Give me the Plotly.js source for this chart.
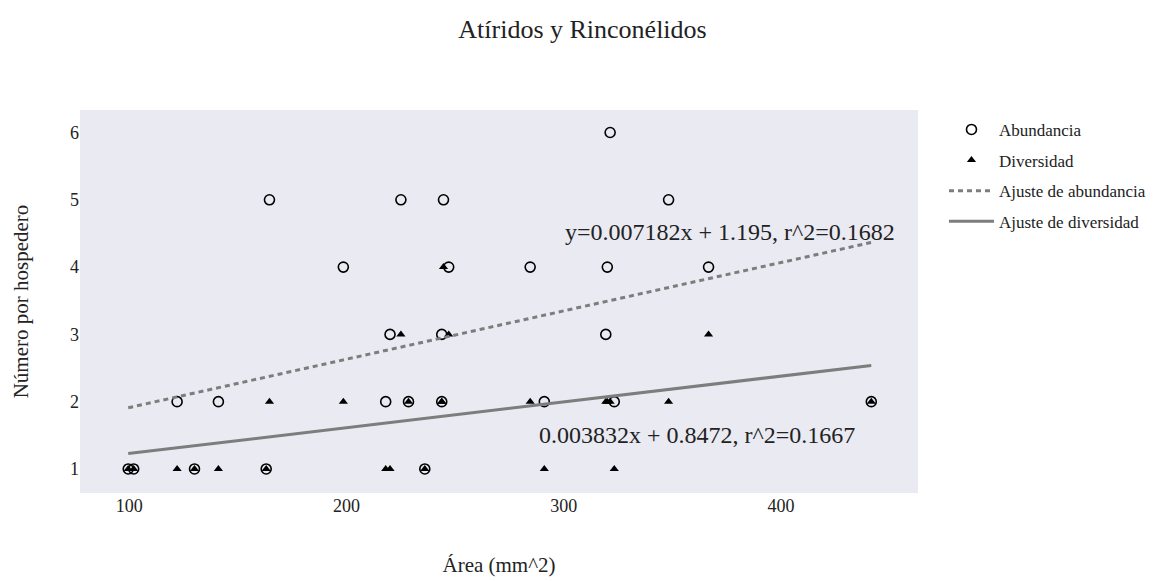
<!DOCTYPE html>
<html>
<head>
<meta charset="utf-8">
<script src="https://cdn.plot.ly/plotly-3.0.1.min.js"></script>
<style>html,body{margin:0;padding:0;background:#fff;}#chart{width:1165px;height:581px;}</style>
</head>
<body>
<div id="chart"></div>
<script>
// Host area (mm^2), abundance and diversity per host
const area = [99.5, 102, 122, 130, 141, 163, 164.5, 198.5, 218, 220, 225, 228.5, 236, 243.8, 243.8, 244.6, 247, 284.5, 291, 319.3, 320, 321.3, 323.2, 348.2, 366.6, 441.5];
const abundancia = [1, 1, 2, 1, 2, 1, 5, 4, 2, 3, 5, 2, 1, 2, 3, 5, 4, 4, 2, 3, 4, 6, 2, 5, 4, 2];
const diversidad = [1, 1, 1, 1, 1, 1, 2, 2, 1, 1, 3, 2, 1, 2, 2, 4, 3, 2, 1, 2, 2, 2, 1, 2, 3, 2];

// Fit coefficients shown in the chart
const fitAbund = {slope: 0.007182, intercept: 1.195, r2: 0.1682};
const fitDiv = {slope: 0.003832, intercept: 0.8472, r2: 0.1667};

const xMin = Math.min(...area), xMax = Math.max(...area);
const fitX = [xMin, xMax];
const fitAbundY = fitX.map(x => fitAbund.slope * x + fitAbund.intercept);
const fitDivY = fitX.map(x => fitDiv.slope * x + fitDiv.intercept);

const serif = 'Liberation Serif, Times New Roman, serif';
const lineColor = '#7d7d7d';
const txt = '#222';

const traces = [
  {x: area, y: abundancia, mode: 'markers', type: 'scatter', name: 'Abundancia', legendgroup: 'a',
   marker: {symbol: 'circle-open', size: 10, color: '#000', line: {width: 1.6, color: '#000'}}},
  {x: area, y: diversidad, mode: 'markers', type: 'scatter', name: 'Diversidad', legendgroup: 'b',
   marker: {symbol: 'triangle-up', size: 8, color: '#000'}},
  {x: fitX, y: fitAbundY, mode: 'lines', type: 'scatter', name: 'Ajuste de abundancia', legendgroup: 'c',
   line: {color: lineColor, width: 3, dash: '5px,4px'}},
  {x: fitX, y: fitDivY, mode: 'lines', type: 'scatter', name: 'Ajuste de diversidad', legendgroup: 'd',
   line: {color: lineColor, width: 3}}
];

const layout = {
  width: 1165, height: 581,
  margin: {l: 80, r: 247, t: 110, b: 88},
  paper_bgcolor: '#ffffff',
  plot_bgcolor: '#EAEAF2',
  font: {family: serif, size: 17, color: txt},
  title: {text: 'Atíridos y Rinconélidos', x: 0.5, xref: 'container', y: 0.95, yanchor: 'middle', font: {family: serif, size: 26, color: txt}},
  xaxis: {range: [77.3, 463], showgrid: false, zeroline: false, showline: false, ticks: '',
          tickvals: [100, 200, 300, 400], tickfont: {family: serif, size: 18, color: txt},
          title: {text: 'Área (mm^2)', standoff: 42, font: {family: serif, size: 21, color: txt}}},
  yaxis: {range: [0.643, 6.334], showgrid: false, zeroline: false, showline: false, ticks: '',
          tickvals: [1, 2, 3, 4, 5, 6], tickfont: {family: serif, size: 18, color: txt},
          title: {text: 'Número por hospedero', standoff: 35, font: {family: serif, size: 21, color: txt}}},
  legend: {x: 1.031, y: 0.995, xanchor: 'left', yanchor: 'top', traceorder: 'grouped', tracegroupgap: 5.5,
           itemwidth: 45,
           font: {family: serif, size: 17, color: txt}, bgcolor: 'rgba(0,0,0,0)'},
  annotations: [
    {x: 376.6, y: 4.52, xref: 'x', yref: 'y', showarrow: false,
     text: 'y=' + fitAbund.slope + 'x + ' + fitAbund.intercept + ', r^2=' + fitAbund.r2,
     font: {family: serif, size: 24, color: txt}},
    {x: 361.2, y: 1.505, xref: 'x', yref: 'y', showarrow: false,
     text: fitDiv.slope + 'x + ' + fitDiv.intercept + ', r^2=' + fitDiv.r2,
     font: {family: serif, size: 24, color: txt}}
  ]
};

Plotly.newPlot('chart', traces, layout, {displayModeBar: false, staticPlot: true});
</script>
</body>
</html>
